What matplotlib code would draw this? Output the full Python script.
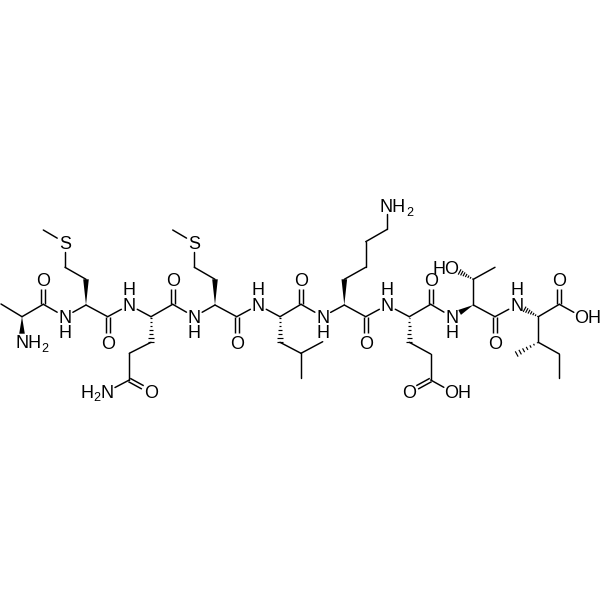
import numpy as np
import matplotlib
matplotlib.use('Agg')
import matplotlib.pyplot as plt
from matplotlib.patches import Polygon

plt.rcParams['font.family'] = ['Liberation Sans', 'DejaVu Sans']

# atoms (pixels)
atom_names = ['ala_me', 'ala_ca', 'ala_n', 'ala_c', 'ala_o',
              'n2', 'met_ca', 'met_cb', 'met_cg', 'met_s', 'met_me', 'met_c', 'met_o',
              'n3', 'gln_ca', 'gln_cb', 'gln_cg', 'gln_cd', 'gln_oe', 'gln_ne', 'gln_c', 'gln_o',
              'n4', 'met2_ca', 'met2_cb', 'met2_cg', 'met2_s', 'met2_me', 'met2_c', 'met2_o',
              'n5', 'leu_ca', 'leu_cb', 'leu_cg', 'leu_d1', 'leu_d2', 'leu_c', 'leu_o',
              'n6', 'lys_ca', 'lys_cb', 'lys_cg', 'lys_cd', 'lys_ce', 'lys_nz', 'lys_c', 'lys_o',
              'n7', 'glu_ca', 'glu_cb', 'glu_cg', 'glu_cd', 'glu_oe', 'glu_oh', 'glu_c', 'glu_o',
              'n8', 'thr_ca', 'thr_cb', 'thr_me', 'thr_oh', 'thr_c', 'thr_o',
              'n9', 'ile_ca', 'ile_cb', 'ile_me', 'ile_cg', 'ile_cd', 'ile_c', 'ile_o', 'ile_oh']
atom_x = [1, 22, 22, 43.3, 43.3,
          65, 86, 86, 65, 65, 43.3, 107.7, 107.7,
          129.3, 151, 151, 129.3, 129.3, 150.7, 107, 172.7, 172.7,
          194.3, 215, 215, 194.3, 194.3, 172.7, 236.7, 236.7,
          258.3, 280, 280, 301, 322.7, 301, 301, 301,
          322.7, 344.3, 344.3, 365.7, 365.7, 387.3, 387.3, 365.7, 365.7,
          387.3, 409.3, 409.3, 430.7, 430.7, 409.3, 451.7, 430.7, 430.7,
          451.7, 473.3, 473.3, 495, 451.7, 495, 495,
          516.7, 538.3, 538.3, 516.7, 559.3, 559.3, 559.3, 559.3, 581.7]
atom_y = [304, 316.7, 342.7, 304.3, 280,
          316.7, 305, 279.3, 267.3, 242.7, 230, 316.7, 342.3,
          305, 316.7, 342.3, 353.3, 380, 391.7, 391.7, 304.3, 280,
          316.7, 305, 279.3, 267.3, 242.7, 230, 316.7, 342.3,
          305, 316.7, 342.3, 353.3, 341.7, 378.3, 304.3, 280,
          316.7, 305, 279.3, 267.3, 241.7, 229.3, 205, 316.7, 342.3,
          305, 316.7, 342.3, 354, 380, 391.7, 391.7, 304.3, 280,
          316.7, 305, 279.3, 267.3, 267.7, 316.7, 342.3,
          305, 316.7, 342.3, 354, 354, 378.3, 304.3, 280, 316.7]

single_bonds = [('ala_me', 'ala_ca'), ('ala_ca', 'ala_c'), ('ala_c', 'n2'), ('n2', 'met_ca'),
                ('met_cb', 'met_cg'), ('met_cg', 'met_s'), ('met_s', 'met_me'), ('met_ca', 'met_c'),
                ('met_c', 'n3'), ('n3', 'gln_ca'), ('gln_cb', 'gln_cg'), ('gln_cg', 'gln_cd'),
                ('gln_cd', 'gln_ne'), ('gln_ca', 'gln_c'), ('gln_c', 'n4'), ('n4', 'met2_ca'),
                ('met2_cb', 'met2_cg'), ('met2_cg', 'met2_s'), ('met2_s', 'met2_me'), ('met2_ca', 'met2_c'),
                ('met2_c', 'n5'), ('n5', 'leu_ca'), ('leu_cb', 'leu_cg'), ('leu_cg', 'leu_d1'),
                ('leu_cg', 'leu_d2'), ('leu_ca', 'leu_c'), ('leu_c', 'n6'), ('n6', 'lys_ca'),
                ('lys_cb', 'lys_cg'), ('lys_cg', 'lys_cd'), ('lys_cd', 'lys_ce'), ('lys_ce', 'lys_nz'),
                ('lys_ca', 'lys_c'), ('lys_c', 'n7'), ('n7', 'glu_ca'), ('glu_cb', 'glu_cg'),
                ('glu_cg', 'glu_cd'), ('glu_cd', 'glu_oh'), ('glu_ca', 'glu_c'), ('glu_c', 'n8'),
                ('thr_ca', 'thr_cb'), ('thr_cb', 'thr_me'), ('thr_ca', 'thr_c'), ('thr_c', 'n9'),
                ('ile_ca', 'ile_cb'), ('ile_cb', 'ile_cg'), ('ile_cg', 'ile_cd'), ('ile_ca', 'ile_c'),
                ('ile_c', 'ile_oh')]
double_bonds = [('ala_c', 'ala_o'), ('met_c', 'met_o'), ('gln_cd', 'gln_oe'), ('gln_c', 'gln_o'),
                ('met2_c', 'met2_o'), ('leu_c', 'leu_o'), ('lys_c', 'lys_o'), ('glu_cd', 'glu_oe'),
                ('glu_c', 'glu_o'), ('thr_c', 'thr_o'), ('ile_c', 'ile_o')]
wedge_bonds = [('ala_ca', 'ala_n'), ('met_ca', 'met_cb'), ('met2_ca', 'met2_cb'),
               ('lys_ca', 'lys_cb'), ('thr_ca', 'n8')]
hash_bonds = [('gln_ca', 'gln_cb'), ('leu_ca', 'leu_cb'), ('glu_ca', 'glu_cb'),
              ('thr_cb', 'thr_oh'), ('ile_ca', 'n9'), ('ile_cb', 'ile_me')]

# heteroatoms, the bond stops short of these
label_atoms = ['ala_n', 'ala_o', 'n2', 'met_s', 'met_o', 'n3', 'gln_oe', 'gln_ne', 'gln_o',
               'n4', 'met2_s', 'met2_o', 'n5', 'leu_o', 'n6', 'lys_nz', 'lys_o', 'n7',
               'glu_oe', 'glu_oh', 'glu_o', 'n8', 'thr_oh', 'thr_o', 'n9', 'ile_o', 'ile_oh']

label_text = ['NH', '2', 'O', 'S', 'O', 'O', 'H', '2', 'N', 'O',
              'S', 'O', 'O', 'NH', '2', 'O',
              'O', 'O', 'OH', 'HO', 'O',
              'O', 'OH']
label_x = [28.2, 44.7, 43.3, 65, 107.7, 150.7, 87, 97, 107.5, 172.7,
           194.3, 236.7, 301, 392.8, 409.5, 365.7,
           430.7, 409.3, 458, 445.7, 495,
           559.3, 588]
label_y = [342, 347, 280, 242.7, 342.3, 391.7, 391.7, 396.5, 391.7, 280,
           242.7, 342.3, 280, 206, 211, 342.3,
           280, 391.7, 391.7, 267.7, 342.3,
           280, 316.7]

# amide N-H drawn as one stacked label
stack_text = ['N\nH', 'H\nN', 'N\nH', 'H\nN', 'N\nH', 'H\nN', 'H\nN', 'N\nH']
stack_x = [65, 129.3, 194.3, 258.3, 322.7, 387.3, 516.7, 451.7]
stack_y = [325.7, 298.5, 325.7, 298.5, 325.7, 298.5, 298.5, 325.7]

pos = {n: np.array([x, y], dtype=float) for n, x, y in zip(atom_names, atom_x, atom_y)}
gap = 9
lw = 1.05


def trimmed(a, b):
    p, q = pos[a].copy(), pos[b].copy()
    d = (q - p) / np.linalg.norm(q - p)
    if a in label_atoms:
        p = p + d * gap
    if b in label_atoms:
        q = q - d * gap
    return p, q


fig = plt.figure(figsize=(6, 6), dpi=100)
ax = fig.add_axes([0, 0, 1, 1])
ax.set_xlim(0, 600)
ax.set_ylim(600, 0)
ax.axis('off')

for a, b in single_bonds:
    p, q = trimmed(a, b)
    ax.plot([p[0], q[0]], [p[1], q[1]], color='black', lw=lw, solid_capstyle='round')

for a, b in double_bonds:
    p, q = trimmed(a, b)
    d = (q - p) / np.linalg.norm(q - p)
    n = np.array([-d[1], d[0]]) * 1.9
    for s in (-1, 1):
        ax.plot([p[0] + s * n[0], q[0] + s * n[0]], [p[1] + s * n[1], q[1] + s * n[1]],
                color='black', lw=lw, solid_capstyle='butt')

for a, b in wedge_bonds:
    p, q = trimmed(a, b)
    d = (q - p) / np.linalg.norm(q - p)
    n = np.array([-d[1], d[0]]) * 2.8
    ax.add_patch(Polygon([p, q + n, q - n], closed=True, color='black', lw=0))

for a, b in hash_bonds:
    p, q = trimmed(a, b)
    d = (q - p) / np.linalg.norm(q - p)
    n = np.array([-d[1], d[0]])
    for t in np.linspace(0.04, 1, 7):
        c = p + (q - p) * t
        w = 0.4 + 2.6 * t
        ax.plot([c[0] - n[0] * w, c[0] + n[0] * w], [c[1] - n[1] * w, c[1] + n[1] * w],
                color='black', lw=0.85, solid_capstyle='butt')

for s, x, y in zip(label_text, label_x, label_y):
    size = 9 if s == '2' else 13
    ax.text(x, y, s, fontsize=size, ha='center', va='center_baseline', color='black')

for s, x, y in zip(stack_text, stack_x, stack_y):
    ax.text(x, y, s, fontsize=13, ha='center', va='center', linespacing=0.85, color='black')

fig.savefig('out.png', dpi=100)
